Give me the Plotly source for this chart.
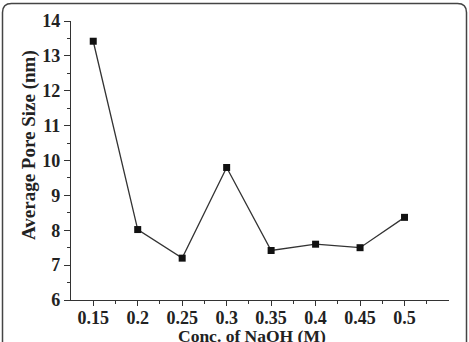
import plotly.graph_objects as go

conc = [0.15, 0.2, 0.25, 0.3, 0.35, 0.4, 0.45, 0.5]
pore = [13.42, 8.02, 7.2, 9.8, 7.42, 7.6, 7.5, 8.37]
xticks = [0.15, 0.2, 0.25, 0.3, 0.35, 0.4, 0.45, 0.5]
xlabels = ["0.15", "0.2", "0.25", "0.3", "0.35", "0.4", "0.45", "0.5"]

W, H = 469, 342
L, R, T, B = 71, 20, 21, 42
pw, ph = W - L - R, H - T - B

def px(x):
    return (x - L) / pw

def py(y):
    return (H - B - y) / ph

fig = go.Figure()
fig.add_trace(go.Scatter(
    x=conc, y=pore, mode="lines+markers",
    line=dict(color="#333333", width=1.3),
    marker=dict(symbol="square", size=7, color="#111111"),
    showlegend=False,
))

# rounded outer frame
x0, x1, y0, y1, r = 2.5, 466.5, 3.5, 360, 9
path = (f"M {px(x0+r)},{py(y0)} L {px(x1-r)},{py(y0)} "
        f"Q {px(x1)},{py(y0)} {px(x1)},{py(y0+r)} "
        f"L {px(x1)},{py(y1)} L {px(x0)},{py(y1)} "
        f"L {px(x0)},{py(y0+r)} Q {px(x0)},{py(y0)} {px(x0+r)},{py(y0)} Z")
fig.add_shape(type="path", xref="paper", yref="paper", path=path,
              line=dict(color="#444444", width=1.5), layer="below")

FS = 18
font = dict(family="Liberation Serif", size=FS, color="#222222")
fig.add_annotation(text="<b>Conc. of NaOH (M)</b>", xref="paper", yref="paper",
                   x=px(252), y=py(324), xanchor="center", yanchor="top",
                   showarrow=False, font=dict(size=17.5))
fig.add_annotation(text="<b>Average Pore Size (nm)</b>", xref="paper", yref="paper",
                   x=px(29), y=py(145), xanchor="center", yanchor="middle",
                   textangle=-90, showarrow=False, font=dict(size=19))
fig.update_layout(
    width=W, height=H,
    margin=dict(l=L, r=R, t=T, b=B, autoexpand=False),
    paper_bgcolor="white", plot_bgcolor="white",
    font=font,
    xaxis=dict(
        range=[0.125, 0.55], tickvals=xticks, ticktext=[f"<b>{t}</b>" for t in xlabels],
        ticks="outside", ticklen=5, tickwidth=1, tickcolor="#333",
        showline=True, linecolor="#333", linewidth=1.2, showgrid=False, zeroline=False,
        minor=dict(tickvals=[0.175, 0.225, 0.275, 0.325, 0.375, 0.425, 0.475, 0.525],
                   ticks="outside", ticklen=3, tickcolor="#333"),
        tickfont=dict(size=FS), automargin=False, ticklabelstandoff=-4,
    ),
    yaxis=dict(
        range=[6, 14], tickvals=[6, 7, 8, 9, 10, 11, 12, 13, 14],
        ticktext=[f"<b>{v}</b>" for v in range(6, 15)],
        ticks="outside", ticklen=6, tickwidth=1, tickcolor="#333",
        showline=True, linecolor="#333", linewidth=1.2, showgrid=False, zeroline=False,
        minor=dict(tickvals=[6.5, 7.5, 8.5, 9.5, 10.5, 11.5, 12.5, 13.5],
                   ticks="outside", ticklen=3, tickcolor="#333"),
        tickfont=dict(size=FS), automargin=False,
    ),
)
fig.write_html("out.html")
